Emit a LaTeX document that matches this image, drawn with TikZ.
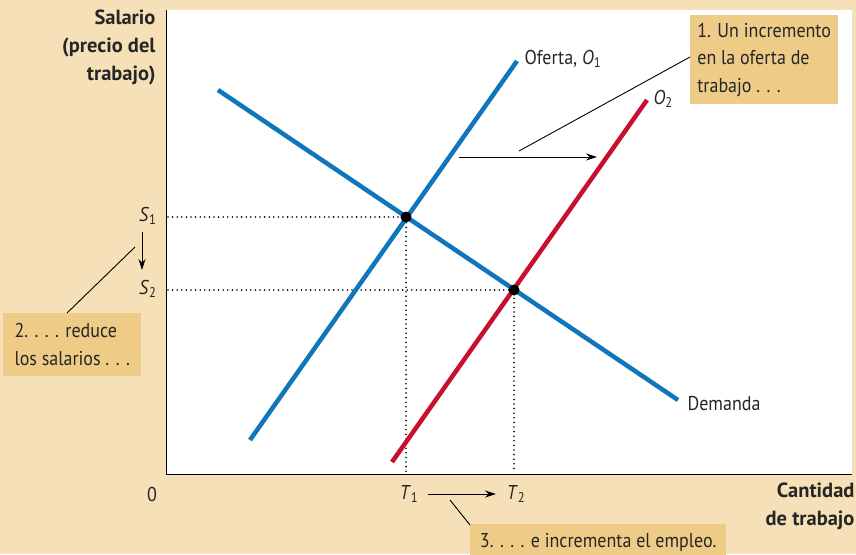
\documentclass[tikz,border=0pt]{standalone}
\usepackage{fontspec}
\setmainfont[FakeStretch=0.9]{PT Sans}
\newfontfamily\axisfont{PT Sans}
\usetikzlibrary{arrows.meta}
\definecolor{bgbeige}{HTML}{F6E0B8}
\definecolor{boxtan}{HTML}{EECB86}
\definecolor{curveblue}{HTML}{0F75BC}
\definecolor{curvered}{HTML}{C8102E}
\tikzset{
  curve/.style={line width=4.5pt},
  guide/.style={line width=1.8pt, line cap=round, dash pattern=on 0pt off 4.6pt},
  lbl/.style={font=\fontsize{20}{27.5}\selectfont, text=black!85},
  axlbl/.style={font=\axisfont\bfseries\fontsize{20.5}{28}\selectfont, text=black!85, align=right},
  callout/.style={lbl, fill=boxtan, inner sep=0pt, align=left, anchor=north west},
  pointer/.style={line width=0.9pt},
  shift arrow/.style={line width=0.9pt, -{Stealth[length=11pt,width=7pt]}},
  dot/.style={circle, fill=black, inner sep=0pt, minimum size=11pt}
}
\begin{document}
\begin{tikzpicture}[x=1pt,y=-1pt]
\useasboundingbox (0,0) rectangle (856,554);
\fill[bgbeige] (0,0) rectangle (856,554);
\fill[white] (166,10) rectangle (852,474);
\draw[line width=1pt] (166,10) -- (166,474) -- (852,474);

% guides
\coordinate (e1) at (406,217);
\coordinate (e2) at (514,290);
\coordinate (s1a) at (168,217);
\coordinate (s2a) at (168,290);
\coordinate (t1a) at (406,472);
\coordinate (t2a) at (514,472);
\draw[guide] (s1a) -- (e1) -- (t1a);
\draw[guide] (s2a) -- (e2) -- (t2a);

% curves
\coordinate (d0) at (218,90);
\coordinate (d1) at (678,400);
\coordinate (o10) at (250,440);
\coordinate (o11) at (517,61);
\coordinate (o20) at (392,462);
\coordinate (o21) at (647,100);
\draw[curve, curveblue] (d0) -- (d1);
\draw[curve, curveblue] (o10) -- (o11);
\draw[curve, curvered] (o20) -- (o21);
\node[dot] (p1) at (e1) {};
\node[dot] (p2) at (e2) {};

% labels
\node[lbl, anchor=west] (lo1) at (521,59) {Oferta, \textit{O}\textsubscript{1}};
\node[lbl, anchor=west] (lo2) at (650,99) {\textit{O}\textsubscript{2}};
\node[lbl, anchor=west] (ldem) at (684,404) {Demanda};
\node[lbl, anchor=east] (ls1) at (160,216) {\textit{S}\textsubscript{1}};
\node[lbl, anchor=east] (ls2) at (160,289) {\textit{S}\textsubscript{2}};
\node[lbl] (lt1) at (409,494) {\textit{T}\textsubscript{1}};
\node[lbl] (lt2) at (516,494) {\textit{T}\textsubscript{2}};
\node[lbl] (zero) at (152,494) {0};
\node[axlbl, anchor=north east] (ylab) at (159,6) {Salario\\(precio del\\trabajo)};
\node[axlbl, anchor=north east] (xlab) at (858,479) {Cantidad\\de trabajo};

% callouts
\node[callout, minimum width=148pt, minimum height=89pt] (c1) at (690,15) {1. Un incremento\\en la oferta de\\trabajo . . .};
\node[callout, minimum width=138pt, minimum height=63pt] (c2) at (3,313) {2. . . . reduce\\los salarios . . .};
\node[callout, minimum width=256pt, minimum height=36pt] (c3) at (470,524) {3. . . . e incrementa el empleo.};

% arrows and pointers
\coordinate (sa0) at (459,157);
\coordinate (sa1) at (597,157);
\draw[shift arrow] (sa0) -- (sa1);
\coordinate (pa1) at (519,151);
\coordinate (c1side) at (690,57);
\draw[pointer] (c1side) -- (pa1);

\coordinate (wa0) at (142,232);
\coordinate (wa1) at (142,270);
\draw[shift arrow] (wa0) -- (wa1);
\coordinate (pa2) at (135,247);
\coordinate (c2top) at (67,313);
\draw[pointer] (c2top) -- (pa2);

\coordinate (ta0) at (428,494);
\coordinate (ta1) at (496,494);
\draw[shift arrow] (ta0) -- (ta1);
\coordinate (pa3) at (450,500);
\coordinate (c3top) at (470,525);
\draw[pointer] (pa3) -- (c3top);
\end{tikzpicture}
\end{document}
